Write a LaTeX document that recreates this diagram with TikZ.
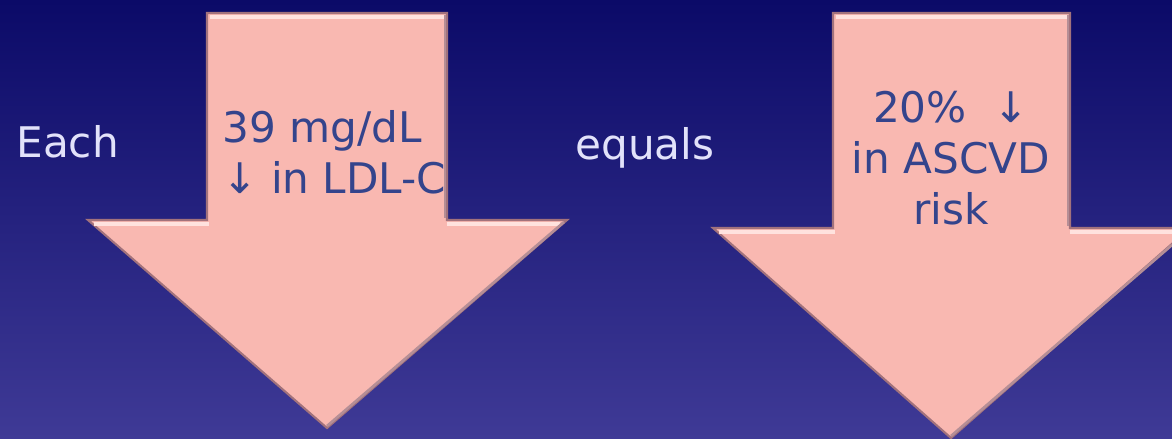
\documentclass[tikz,border=0pt]{standalone}
\usepackage{fontspec}
\setmainfont{DejaVu Sans}
\usepackage{tikz}

\definecolor{navytop}{HTML}{0B0A68}
\definecolor{navymid}{HTML}{24207E}
\definecolor{navybot}{HTML}{3F3A96}
\definecolor{salmon}{HTML}{F9B8B1}
\definecolor{salmonhi}{HTML}{FFE2DE}
\definecolor{salmondk}{HTML}{A2727C}
\definecolor{inktext}{HTML}{34448C}
\definecolor{paletext}{HTML}{E2E2FA}

\begin{document}
\begin{tikzpicture}[
x=0.02cm, y=-0.02cm,
bigarrow/.style={fill=salmon, draw=salmondk, line width=1.2pt, line join=miter},
gloss/.style={salmonhi, line width=2.5pt},
shadow/.style={salmondk!80, line width=1.5pt},
plain/.style={font=\fontsize{24}{29}\selectfont, text=paletext, inner sep=0pt},
inside/.style={font=\fontsize{24}{29}\selectfont, text=inktext, inner sep=0pt}
]
\useasboundingbox (0,0) rectangle (1172,439);
\shade[top color=navytop, middle color=navymid, bottom color=navybot] (0,0) rectangle (1172,439);

% first arrow
\path[bigarrow] (207,13) -- (447,13) -- (447,220) -- (567,220) -- (327,428)
  -- (88,220) -- (207,220) -- cycle;
\draw[gloss] (210,17) -- (444,17);
\draw[gloss] (94,224) -- (209,224);
\draw[gloss] (447,224) -- (560,224);
\draw[shadow] (445,15) -- (445,218);
\draw[shadow] (564,222) -- (327,426);
\begin{scope}
\clip (207,13) -- (447,13) -- (447,220) -- (567,220) -- (327,428)
  -- (88,220) -- (207,220) -- cycle;
\node[inside, align=left, anchor=north west] (ldl) at (222,110) {39 mg/dL\\↓ in LDL-C};
\end{scope}

% second arrow
\path[bigarrow] (833,13) -- (1070,13) -- (1070,228) -- (1190,228) -- (951,438)
  -- (713,228) -- (833,228) -- cycle;
\draw[gloss] (836,17) -- (1067,17);
\draw[gloss] (719,232) -- (835,232);
\draw[gloss] (1070,232) -- (1172,232);
\draw[shadow] (1068,15) -- (1068,226);
\draw[shadow] (1172,245) -- (951,436);
\node[inside, align=center, anchor=north] (risk) at (951,91) {20\%\ \ ↓\\in ASCVD\\risk};

% words between the arrows
\node[plain, anchor=base west] (each) at (16,157) {Each};
\node[plain, anchor=base west] (equals) at (575,159) {equals};
\end{tikzpicture}
\end{document}
